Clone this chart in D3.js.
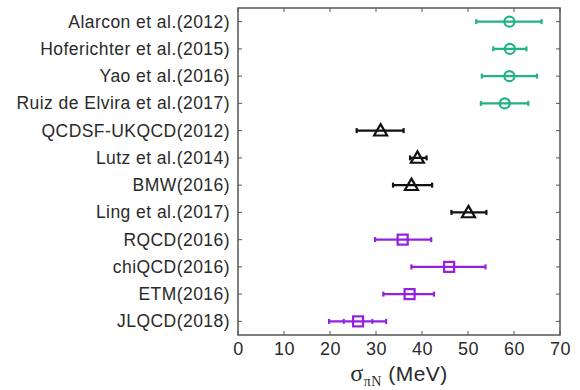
<!DOCTYPE html>
<html><head><meta charset="utf-8">
<script src="https://cdn.jsdelivr.net/npm/d3@7"></script>
<style>body{margin:0;background:#fff;}svg{display:block;}</style>
</head><body>
<script>
const categories = ["Alarcon et al.(2012)","Hoferichter et al.(2015)","Yao et al.(2016)","Ruiz de Elvira et al.(2017)","QCDSF-UKQCD(2012)","Lutz et al.(2014)","BMW(2016)","Ling et al.(2017)","RQCD(2016)","chiQCD(2016)","ETM(2016)","JLQCD(2018)"];
const centers = [59, 59.1, 59, 58, 31, 39, 37.7, 50.1, 35.8, 45.9, 37.3, 26.1];
const errLow  = [51.8, 55.5, 53, 52.8, 25.8, 37.4, 33.7, 46.4, 29.8, 37.7, 31.6, 19.8];
const errHigh = [66, 62.7, 65, 63.1, 36, 41, 42.2, 54, 42, 53.8, 42.6, 32.2];
const statLow  = [null,null,null,null,null,null,null,null,null,null,null,23];
const statHigh = [null,null,null,null,null,null,null,null,null,null,null,29.2];
const groups = ["pheno","pheno","pheno","pheno","lat1","lat1","lat1","lat1","lat2","lat2","lat2","lat2"];
const xTicks = [0,10,20,30,40,50,60,70];

const W=580,H=390;
const m={l:238,r:20,t:8,b:55};
const FONT="Liberation Sans, Arial, Helvetica, sans-serif";
const svg=d3.select("body").append("svg").attr("width",W).attr("height",H);
const x=d3.scaleLinear().domain([0,70]).range([m.l,W-m.r]);
const y=d3.scalePoint().domain(categories).range([m.t,H-m.b]).padding(0.5);
const colors={pheno:"#22b383",lat1:"#111111",lat2:"#9420e0"};
const frame="#555";

// ticks inside
const g=svg.append("g");
xTicks.forEach(t=>{
  g.append("line").attr("x1",x(t)).attr("x2",x(t)).attr("y1",H-m.b).attr("y2",H-m.b-4).attr("stroke",frame).attr("stroke-width",1);
  g.append("line").attr("x1",x(t)).attr("x2",x(t)).attr("y1",m.t).attr("y2",m.t+4).attr("stroke",frame).attr("stroke-width",1);
});
categories.forEach(c=>{
  g.append("line").attr("x1",m.l).attr("x2",m.l+4).attr("y1",y(c)).attr("y2",y(c)).attr("stroke",frame);
  g.append("line").attr("x1",W-m.r).attr("x2",W-m.r-4).attr("y1",y(c)).attr("y2",y(c)).attr("stroke",frame);
});
svg.append("rect").attr("x",m.l).attr("y",m.t).attr("width",W-m.r-m.l).attr("height",H-m.b-m.t)
  .attr("fill","none").attr("stroke",frame).attr("stroke-width",1.5);

// x tick labels
const xa=d3.axisBottom(x).tickValues(xTicks).tickSize(0).tickPadding(7);
const xg=svg.append("g").attr("transform",`translate(0,${H-m.b})`).call(xa);
xg.select(".domain").remove();
xg.selectAll("text").attr("font-family",FONT).attr("font-size",18).attr("letter-spacing",0.5).attr("fill","#2a2a2a");

// y labels
const ya=d3.axisLeft(y).tickSize(0).tickPadding(8);
const yg=svg.append("g").attr("transform",`translate(${m.l},0)`).call(ya);
yg.select(".domain").remove();
yg.selectAll("text").attr("font-family",FONT).attr("font-size",17.5).attr("letter-spacing",0.45).attr("fill","#2a2a2a");

// x title
const tt=svg.append("text").attr("x",(x(0)+x(70))/2).attr("y",H-9).attr("text-anchor","middle")
  .attr("font-family",FONT).attr("font-size",21).attr("fill","#2a2a2a").attr("letter-spacing",0.5);
tt.append("tspan").text("σ").attr("font-family","Liberation Serif, Times New Roman, serif").attr("font-size",24);
tt.append("tspan").text("πN").attr("font-size",14).attr("dy",5).attr("font-family","Liberation Serif, serif");
tt.append("tspan").text(" (MeV)").attr("dy",-5);

// error bars and markers
categories.forEach((c,i)=>{
  const col=colors[groups[i]], yy=y(c);
  svg.append("line").attr("x1",x(errLow[i])).attr("x2",x(errHigh[i])).attr("y1",yy).attr("y2",yy).attr("stroke",col).attr("stroke-width",2.2);
  [errLow[i],errHigh[i]].forEach(v=>svg.append("line").attr("x1",x(v)).attr("x2",x(v)).attr("y1",yy-2.5).attr("y2",yy+2.5).attr("stroke",col).attr("stroke-width",2.2));
  if(statLow[i]!=null){
    [statLow[i],statHigh[i]].forEach(v=>svg.append("line").attr("x1",x(v)).attr("x2",x(v)).attr("y1",yy-2.5).attr("y2",yy+2.5).attr("stroke",col).attr("stroke-width",2));
  }
  const cx=x(centers[i]);
  if(groups[i]==="pheno"){
    svg.append("circle").attr("cx",cx).attr("cy",yy).attr("r",5).attr("fill","none").attr("stroke",col).attr("stroke-width",2.2);
  } else if(groups[i]==="lat1"){
    const s=6.5;
    svg.append("path").attr("d",`M${cx},${yy-s}L${cx+s},${yy+s*0.75}L${cx-s},${yy+s*0.75}Z`).attr("fill","none").attr("stroke",col).attr("stroke-width",2.2);
  } else {
    svg.append("rect").attr("x",cx-5).attr("y",yy-5).attr("width",10).attr("height",10).attr("fill","none").attr("stroke",col).attr("stroke-width",2.2);
  }
});
</script>
</body></html>
